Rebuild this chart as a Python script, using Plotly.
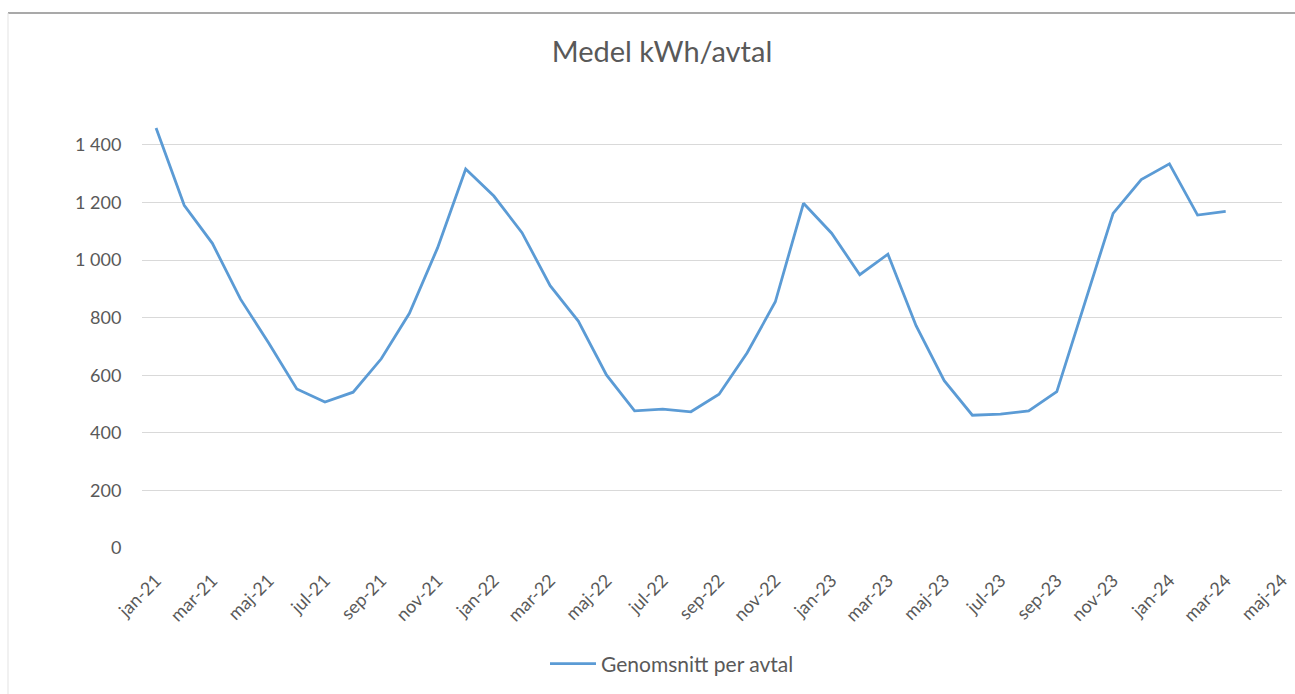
import plotly.graph_objects as go

# Monthly average consumption per contract (kWh), jan-21 .. mar-24
months = [
    "jan-21", "feb-21", "mar-21", "apr-21", "maj-21", "jun-21", "jul-21", "aug-21", "sep-21", "okt-21", "nov-21", "dec-21",
    "jan-22", "feb-22", "mar-22", "apr-22", "maj-22", "jun-22", "jul-22", "aug-22", "sep-22", "okt-22", "nov-22", "dec-22",
    "jan-23", "feb-23", "mar-23", "apr-23", "maj-23", "jun-23", "jul-23", "aug-23", "sep-23", "okt-23", "nov-23", "dec-23",
    "jan-24", "feb-24", "mar-24",
]
avg_kwh = [
    1458, 1190, 1058, 864, 712, 552, 507, 541, 657, 815, 1042, 1316,
    1222, 1095, 911, 788, 601, 476, 482, 473, 534, 678, 855, 1197,
    1093, 949, 1020, 772, 581, 461, 465, 476, 543, 852, 1162, 1279,
    1334, 1156, 1169,
]

# Axis ticks: every second month up to maj-24
x_tick_labels = [
    "jan-21", "mar-21", "maj-21", "jul-21", "sep-21", "nov-21",
    "jan-22", "mar-22", "maj-22", "jul-22", "sep-22", "nov-22",
    "jan-23", "mar-23", "maj-23", "jul-23", "sep-23", "nov-23",
    "jan-24", "mar-24", "maj-24",
]
y_tick_values = [0, 200, 400, 600, 800, 1000, 1200, 1400]
y_tick_labels = ["0", "200", "400", "600", "800", "1 000", "1 200", "1 400"]

month_index = list(range(len(months)))
tick_index = [2 * i for i in range(len(x_tick_labels))]

FONT = "Lato, 'Open Sans', sans-serif"
GREY = "#595959"

fig = go.Figure()
fig.add_trace(go.Scatter(
    x=month_index,
    y=avg_kwh,
    mode="lines",
    name="Genomsnitt per avtal",
    line=dict(color="#5B9BD5", width=2.8),
    text=months,
    hovertemplate="%{text}: %{y}<extra></extra>",
))

fig.update_layout(
    width=1295,
    height=694,
    margin=dict(l=142, r=13, t=116, b=146, autoexpand=False),
    paper_bgcolor="white",
    plot_bgcolor="white",
    font=dict(family=FONT, color=GREY, size=17),
    title=dict(
        text="Medel kWh/avtal",
        x=662 / 1295,
        xref="container",
        xanchor="center",
        y=1 - 52 / 694,
        yref="container",
        yanchor="middle",
        font=dict(family=FONT, size=29, color=GREY),
    ),
    showlegend=True,
    legend=dict(
        orientation="h",
        x=0.5 + (672 - 712) / 1140,
        xanchor="center",
        y=-(664 - 548) / 432,
        yanchor="middle",
        font=dict(family=FONT, size=21, color=GREY),
        itemwidth=46,
    ),
    xaxis=dict(
        range=[-0.5, 40],
        tickmode="array",
        tickvals=tick_index,
        ticktext=x_tick_labels,
        tickangle=-45,
        ticks="outside",
        ticklen=14,
        tickcolor="rgba(0,0,0,0)",
        showgrid=False,
        zeroline=False,
        showline=False,
        automargin=False,
        tickfont=dict(family=FONT, size=18, color=GREY),
    ),
    yaxis=dict(
        range=[0, 1500],
        tickmode="array",
        tickvals=y_tick_values,
        ticktext=y_tick_labels,
        ticks="outside",
        ticklen=16,
        tickcolor="rgba(0,0,0,0)",
        showgrid=True,
        gridcolor="#D9D9D9",
        gridwidth=1,
        zeroline=False,
        showline=False,
        automargin=False,
        tickfont=dict(family=FONT, size=18, color=GREY),
    ),
    shapes=[
        # chart frame edges (top and left)
        dict(type="line", xref="paper", yref="paper",
             x0=-134 / 1140, x1=1.2, y0=(548 - 13) / 432, y1=(548 - 13) / 432,
             line=dict(color="#8C8C8C", width=1.5)),
        dict(type="line", xref="paper", yref="paper",
             x0=-134 / 1140, x1=-134 / 1140, y0=(548 - 13) / 432, y1=-0.4,
             line=dict(color="#E3E3E3", width=1)),
    ],
)

fig.write_html("out.html")
